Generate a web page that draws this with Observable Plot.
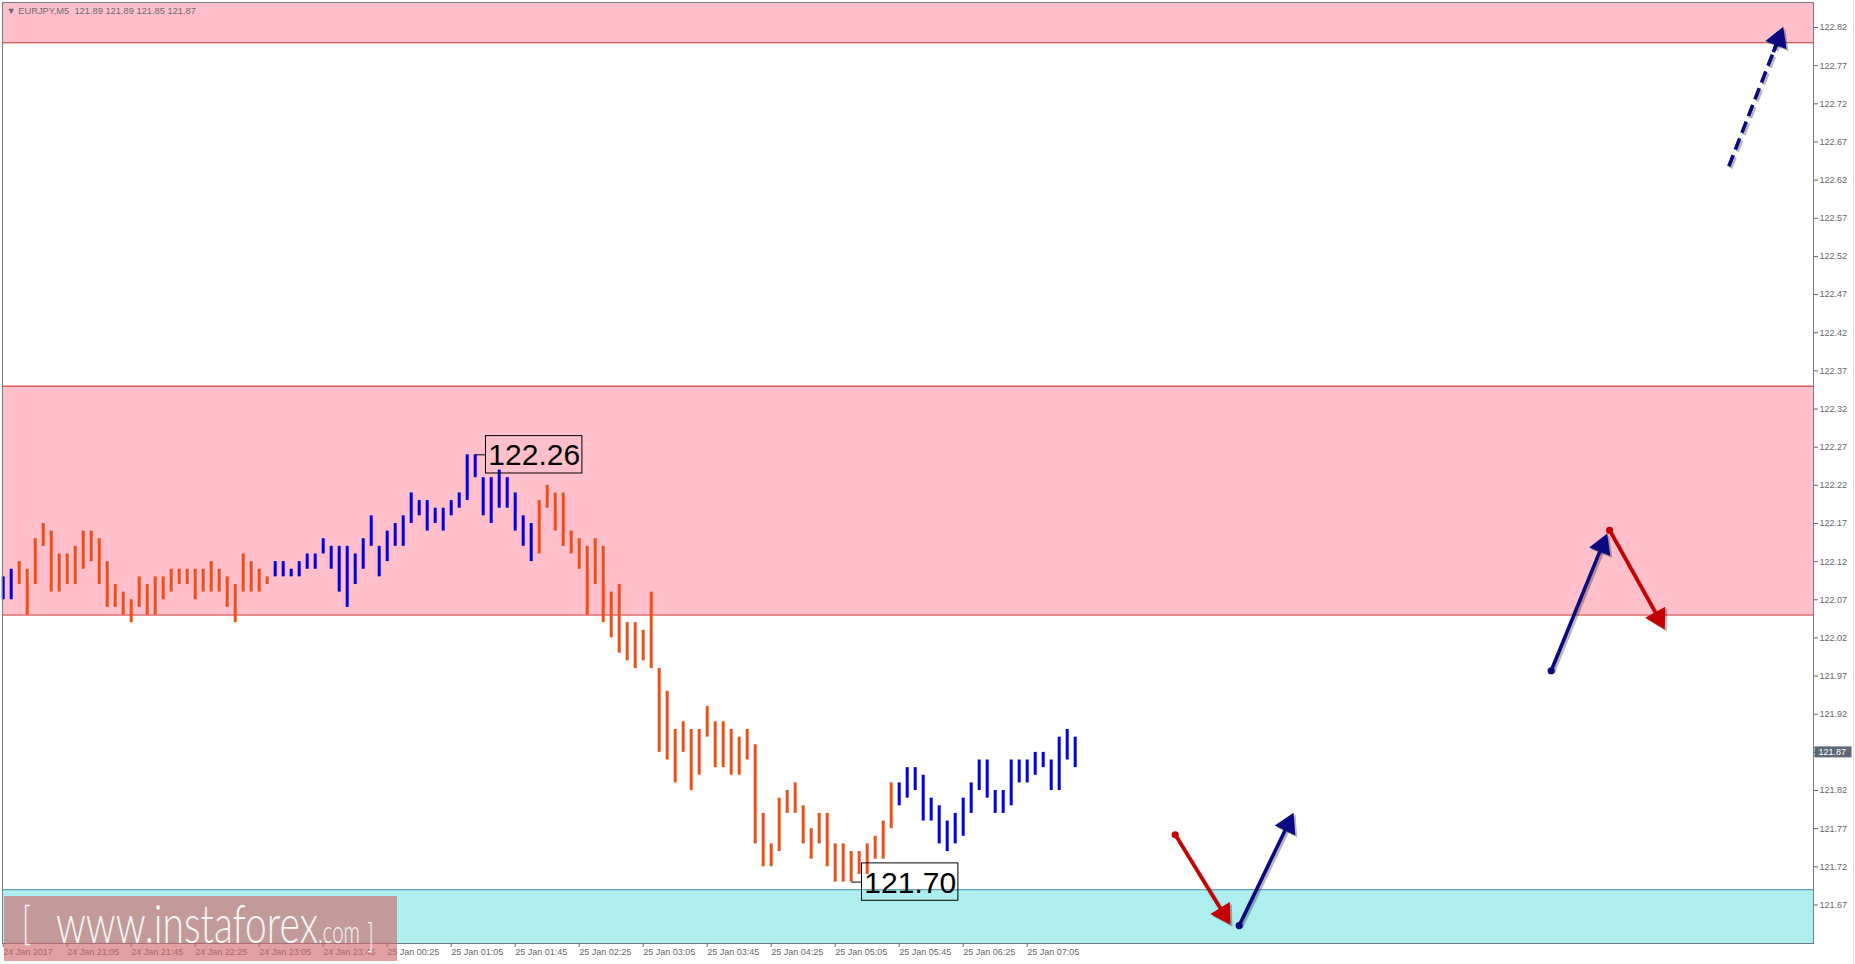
<!DOCTYPE html>
<html>
<head>
<meta charset="utf-8">
<script src="https://cdn.jsdelivr.net/npm/d3@7"></script>
<script src="https://cdn.jsdelivr.net/npm/@observablehq/plot@0.6"></script>
<style>
html,body{margin:0;padding:0;background:#fff;overflow:hidden}
#chart{position:relative;width:1855px;height:964px}
</style>
</head>
<body>
<div id="chart"></div>
<script>
// ---------- data ----------
const symbolName = "EURJPY,M5";
const lastQuote = [121.89, 121.89, 121.85, 121.87]; // open high low close of the last bar

const barHigh = [
  122.10,122.11,122.12,122.11,122.15,122.17,122.16,122.13,122.13,122.14,
  122.16,122.16,122.15,122.12,122.09,122.08,122.07,122.10,122.09,122.10,
  122.10,122.11,122.11,122.11,122.11,122.11,122.12,122.11,122.10,122.09,
  122.13,122.12,122.11,122.10,122.12,122.12,122.11,122.12,122.13,122.13,
  122.15,122.14,122.14,122.14,122.13,122.15,122.18,122.14,122.16,122.17,
  122.18,122.21,122.20,122.20,122.19,122.19,122.20,122.21,122.26,122.26,
  122.23,122.23,122.24,122.23,122.21,122.18,122.17,122.20,122.22,122.21,
  122.21,122.16,122.15,122.14,122.15,122.14,122.08,122.09,122.04,122.04,
  122.03,122.08,121.98,121.95,121.90,121.91,121.90,121.90,121.93,121.91,
  121.91,121.90,121.89,121.90,121.88,121.79,121.75,121.81,121.82,121.83,
  121.80,121.77,121.79,121.79,121.75,121.75,121.74,121.74,121.75,121.76,
  121.78,121.83,121.83,121.85,121.85,121.84,121.81,121.80,121.78,121.79,
  121.81,121.83,121.86,121.86,121.82,121.82,121.86,121.86,121.86,121.87,
  121.87,121.86,121.89,121.90,121.89
];
const barLow = [
  122.07,122.07,122.09,122.05,122.09,122.14,122.08,122.08,122.09,122.09,
  122.11,122.12,122.09,122.06,122.06,122.05,122.04,122.06,122.05,122.05,
  122.07,122.08,122.09,122.09,122.07,122.08,122.08,122.08,122.06,122.04,
  122.08,122.08,122.08,122.09,122.10,122.10,122.10,122.10,122.11,122.11,
  122.13,122.11,122.08,122.06,122.09,122.11,122.14,122.10,122.12,122.14,
  122.14,122.17,122.18,122.16,122.17,122.16,122.18,122.19,122.20,122.23,
  122.18,122.17,122.19,122.19,122.16,122.14,122.12,122.13,122.19,122.16,
  122.14,122.13,122.11,122.05,122.09,122.04,122.02,122.00,121.99,121.98,
  121.99,121.98,121.87,121.86,121.83,121.87,121.82,121.84,121.89,121.85,
  121.85,121.84,121.84,121.86,121.75,121.72,121.72,121.74,121.79,121.79,
  121.75,121.73,121.75,121.72,121.70,121.70,121.70,121.71,121.71,121.73,
  121.73,121.77,121.80,121.81,121.82,121.78,121.78,121.75,121.74,121.75,
  121.76,121.79,121.82,121.81,121.79,121.79,121.80,121.83,121.83,121.84,
  121.85,121.82,121.82,121.86,121.85
];
// 1 = blue (up) bar, 0 = orange (down) bar
const barUp = [
  1,1,0,0,0,0,0,0,0,0,
  0,0,0,0,0,0,0,0,0,0,
  0,0,0,0,0,0,0,0,0,0,
  0,0,0,0,1,1,1,1,1,1,
  1,1,1,1,1,1,1,1,1,1,
  1,1,1,1,1,1,1,1,1,1,
  1,1,1,1,1,1,1,0,0,0,
  0,0,0,0,0,0,0,0,0,0,
  0,0,0,0,0,0,0,0,0,0,
  0,0,0,0,0,0,0,0,0,0,
  0,0,0,0,0,0,0,0,0,0,
  0,0,1,1,1,1,1,1,1,1,
  1,1,1,1,1,1,1,1,1,1,
  1,1,1,1,1
];

const xTickBars = [0,8,16,24,32,40,48,56,64,72,80,88,96,104,112,120,128];
const xTickLabels = ["24 Jan 2017","24 Jan 21:05","24 Jan 21:45","24 Jan 22:25","24 Jan 23:05",
  "24 Jan 23:45","25 Jan 00:25","25 Jan 01:05","25 Jan 01:45","25 Jan 02:25","25 Jan 03:05",
  "25 Jan 03:45","25 Jan 04:25","25 Jan 05:05","25 Jan 05:45","25 Jan 06:25","25 Jan 07:05"];
const yTickValues = [121.67,121.72,121.77,121.82,121.87,121.92,121.97,122.02,122.07,122.12,
  122.17,122.22,122.27,122.32,122.37,122.42,122.47,122.52,122.57,122.62,122.67,122.72,122.77,122.82];

const pinkZones = [{lo: 122.80, hi: 122.90}, {lo: 122.05, hi: 122.35}];
const cyanZones = [{lo: 121.50, hi: 121.69}];
const pinkEdges = [122.80, 122.35, 122.05];
const cyanEdges = [121.69];

const extremeLabels = [{bar: 59, price: 122.26}, {bar: 106, price: 121.70}];

const arrowsUp = [
  {x1: 193.5, y1: 121.977, x2: 200.5, y2: 122.157},
  {x1: 154.5, y1: 121.643, x2: 161.3, y2: 121.791}
];
const arrowsDown = [
  {x1: 200.8, y1: 122.161, x2: 207.7, y2: 122.031},
  {x1: 146.5, y1: 121.762, x2: 153.4, y2: 121.644}
];
const arrowsForecast = [
  {x1: 215.7, y1: 122.638, x2: 222.5, y2: 122.821}
];

const watermark = ["[", "www.instaforex", ".com", "]"];

// ---------- layout ----------
const W = 1855, H = 964, mT = 2, mR = 42, mB = 21, mL = 2;
const xDom = [-0.0875, 226.2875];
const yDom = [121.6195, 122.8528];
const kx = (W - mL - mR) / (xDom[1] - xDom[0]);
const ky = (H - mT - mB) / (yDom[1] - yDom[0]);

const bars = barHigh.map((h, i) => ({i, high: h, low: barLow[i], up: barUp[i] === 1}));
const xLabelOf = new Map(xTickBars.map((b, k) => [b, xTickLabels[k]]));

const HY = 6.6;                       // triangle half unit (px)
const headR = Math.sqrt(HY * HY * 3 * Math.sqrt(3) / Math.PI);
function geom(a) {
  const sx = (a.x2 - a.x1) * kx, sy = -(a.y2 - a.y1) * ky;
  const L = Math.hypot(sx, sy), ux = sx / L, uy = sy / L;
  const back = 2 * HY;
  return {
    x1: a.x1, y1: a.y1,
    hx: a.x2 - back * ux / kx, hy: a.y2 + back * uy / ky,
    rot: Math.atan2(ux, -uy) * 180 / Math.PI,
    sx1: a.x2 - (back + 14) * ux / kx, sy1: a.y2 + (back + 14) * uy / ky
  };
}
const gUp = arrowsUp.map(geom), gDown = arrowsDown.map(geom), gFc = arrowsForecast.map(geom);

function arrowMarks(g, color, opts = {}) {
  const shadow = {stroke: "#000", strokeOpacity: 0.28, dx: 2, dy: 2};
  const marks = [];
  const sw = 3.6;
  marks.push(Plot.link(g, {x1: "x1", y1: "y1", x2: "hx", y2: "hy", strokeWidth: sw, strokeDasharray: opts.dash, ...shadow}));
  marks.push(Plot.dot(g, {x: "hx", y: "hy", r: headR, symbol: "triangle", rotate: "rot", fill: "#000", fillOpacity: 0.28, stroke: null, dx: 2, dy: 2}));
  marks.push(Plot.link(g, {x1: "x1", y1: "y1", x2: "hx", y2: "hy", stroke: color, strokeWidth: sw, strokeDasharray: opts.dash}));
  if (opts.dash) marks.push(Plot.link(g, {x1: "sx1", y1: "sy1", x2: "hx", y2: "hy", stroke: color, strokeWidth: sw}));
  marks.push(Plot.dot(g, {x: "hx", y: "hy", r: headR, symbol: "triangle", rotate: "rot", fill: color, stroke: null}));
  if (!opts.dash) marks.push(Plot.dot(g, {x: "x1", y: "y1", r: 3.6, fill: color, stroke: null}));
  return marks;
}

const boxW = 12.05, boxGap = 1.35, boxH = 0.0245;

const plot = Plot.plot({
  width: W, height: H,
  marginTop: mT, marginRight: mR, marginBottom: mB, marginLeft: mL,
  x: {domain: xDom},
  y: {domain: yDom},
  style: {fontFamily: "'Liberation Sans', Arial, sans-serif", fontSize: "9px", background: "#fff", overflow: "visible"},
  marks: [
    Plot.rect(pinkZones, {y1: "lo", y2: "hi", fill: "#ffc0cb", clip: true}),
    Plot.rect(cyanZones, {y1: "lo", y2: "hi", fill: "#afeeee", clip: true}),
    Plot.ruleY(pinkEdges, {stroke: "#cc2a2a", strokeWidth: 1}),
    Plot.ruleY(cyanEdges, {stroke: "#4a8fb5", strokeWidth: 1}),
    Plot.ruleX(bars, {filter: d => !d.up, x: "i", y1: "low", y2: "high", stroke: "#ef4f17", strokeWidth: 3}),
    Plot.ruleX(bars, {filter: d => d.up, x: "i", y1: "low", y2: "high", stroke: "#0000e6", strokeWidth: 3}),
    Plot.link(extremeLabels, {x1: "bar", x2: d => d.bar + boxGap, y1: "price", y2: "price", stroke: "#000", strokeWidth: 1}),
    Plot.rect(extremeLabels, {x1: d => d.bar + boxGap, x2: d => d.bar + boxGap + boxW,
      y1: d => d.price - boxH, y2: d => d.price + boxH, fill: "none", stroke: "#000", strokeWidth: 1}),
    Plot.text(extremeLabels, {x: d => d.bar + boxGap + boxW / 2, y: "price", text: d => d.price.toFixed(2),
      fontSize: 30, fill: "#000", dy: 1}),
    ...arrowMarks(gDown, "#c40000"),
    ...arrowMarks(gUp, "#0a0a80"),
    ...arrowMarks(gFc, "#0a0a80", {dash: "12,6"}),
    Plot.frame({stroke: "#6f7b88"}),
    Plot.axisX({ticks: xTickBars, tickFormat: d => xLabelOf.get(d), tickSize: 4, tickPadding: 1,
      textAnchor: "start", color: "#62666e", label: null}),
    Plot.axisY({ticks: yTickValues, anchor: "right", tickSize: 4, tickPadding: 2,
      tickFormat: d => d.toFixed(2), textAnchor: "start", color: "#62666e", label: null}),
    Plot.text([`\u25BC ${symbolName}  ${lastQuote.map(v => v.toFixed(2)).join(" ")}`],
      {frameAnchor: "top-left", lineAnchor: "middle", dx: 4, dy: 9, textAnchor: "start", fill: "#6b6b6b", fontSize: 9.3})
  ]
});

document.getElementById("chart").append(plot);

// ---------- decorations ----------
const svg = d3.select(plot);
const yS = plot.scale("y");
const lastClose = lastQuote[3];
const yc = yS.apply(lastClose);
svg.append("rect").attr("x", 1814.5).attr("y", yc - 5.5).attr("width", 37).attr("height", 11).attr("fill", "#5d6877");
svg.append("text").attr("x", 1818.5).attr("y", yc + 3.3).attr("text-anchor", "start").style("fill", "#ffffff")
  .attr("font-size", 9).attr("font-family", "'Liberation Sans', Arial, sans-serif").text(lastClose.toFixed(2));
svg.append("line").attr("x1", 1853.5).attr("x2", 1853.5).attr("y1", 0).attr("y2", H).attr("stroke", "#e2e2e2");

// watermark
const wm = svg.append("g").attr("font-family", "Lato, 'Open Sans', sans-serif").attr("font-weight", 300)
  .attr("text-anchor", "start").style("fill", "#f3f8f8");
wm.append("rect").attr("x", 4).attr("y", 896).attr("width", 393).attr("height", 65)
  .style("fill", "rgb(209,101,101)").attr("fill-opacity", 0.62);
function fitText(str, x, y, fs, targetW) {
  const t = wm.append("text").attr("font-size", fs).attr("x", 0).attr("y", 0).attr("text-anchor", "start").text(str);
  const w = t.node().getComputedTextLength() || targetW;
  const s = targetW / w;
  t.attr("transform", `translate(${x},${y}) scale(${s},1)`);
}
fitText(watermark[0], 22, 939, 46, 9);
fitText(watermark[1], 56, 943, 54, 262);
fitText(watermark[2], 318, 943, 32, 42);
fitText(watermark[3], 367, 948, 34, 7);
</script>
</body>
</html>
